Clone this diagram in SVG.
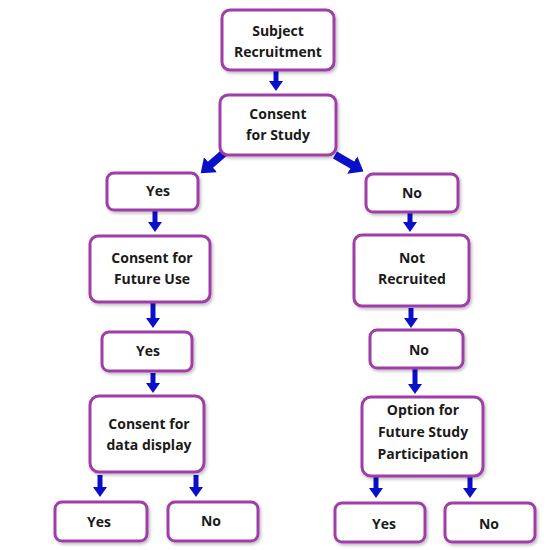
<svg xmlns="http://www.w3.org/2000/svg" width="560" height="550" viewBox="0 0 560 550">
<defs>
<filter id="sh" x="-20%" y="-20%" width="140%" height="150%">
<feDropShadow dx="1.5" dy="2" stdDeviation="1.5" flood-color="#000" flood-opacity="0.25"/>
</filter>
<marker id="ah" markerUnits="userSpaceOnUse" markerWidth="14" markerHeight="14" viewBox="0 0 14 14" refX="2" refY="7" orient="auto">
<path d="M0,0 L10,7 L0,14 Z" fill="#0a10c8"/>
</marker>
<marker id="ahb" markerUnits="userSpaceOnUse" markerWidth="20" markerHeight="20" viewBox="0 0 20 20" refX="2" refY="10" orient="auto">
<path d="M0,0 L13,10 L0,20 Z" fill="#0a10c8"/>
</marker>
<style>
.n rect{fill:#fff;stroke:#a03ca8;stroke-width:3;filter:url(#sh)}
.n text{font-family:"Open Sans","Liberation Sans",sans-serif;font-weight:bold;font-size:14px;fill:#1a1a1a;text-anchor:middle}
#edges line{stroke:#0a10c8;stroke-width:5;marker-end:url(#ah)}
#edges line.d{stroke-width:8;marker-end:url(#ahb)}
</style>
</defs>
<rect width="560" height="550" fill="#fff"/>
<g id="edges">
<line x1="276" y1="71" x2="276" y2="83"/>
<line class="d" x1="224" y1="153" x2="209" y2="166"/>
<line class="d" x1="335" y1="155" x2="354" y2="166"/>
<line x1="155" y1="211" x2="155" y2="224"/>
<line x1="410" y1="213" x2="410" y2="224"/>
<line x1="153" y1="303" x2="153" y2="320"/>
<line x1="411" y1="308" x2="411" y2="320"/>
<line x1="153" y1="373" x2="153" y2="385"/>
<line x1="415" y1="369" x2="415" y2="386"/>
<line x1="100" y1="475" x2="100" y2="489"/>
<line x1="196" y1="475" x2="196" y2="489"/>
<line x1="376" y1="477" x2="376" y2="490"/>
<line x1="470" y1="477" x2="470" y2="490"/>
</g>
<g id="n1" class="n"><rect x="222" y="10" width="112" height="60" rx="8"/><text x="278" y="36">Subject</text><text x="278" y="57">Recruitment</text></g>
<g id="n2" class="n"><rect x="220" y="95" width="116" height="60" rx="8"/><text x="278" y="119">Consent</text><text x="278" y="140">for Study</text></g>
<g id="n3" class="n"><rect x="107" y="173" width="91" height="37" rx="7"/><text x="158" y="196">Yes</text></g>
<g id="n4" class="n"><rect x="366" y="174" width="92" height="38" rx="7"/><text x="412" y="198">No</text></g>
<g id="n5" class="n"><rect x="90" y="236" width="120" height="66" rx="8"/><text x="152" y="263">Consent for</text><text x="152" y="284">Future Use</text></g>
<g id="n6" class="n"><rect x="354" y="235" width="115" height="71" rx="8"/><text x="412" y="263">Not</text><text x="412" y="284">Recruited</text></g>
<g id="n7" class="n"><rect x="102" y="332" width="90" height="39" rx="7"/><text x="148" y="356">Yes</text></g>
<g id="n8" class="n"><rect x="370" y="330" width="93" height="38" rx="7"/><text x="419" y="355">No</text></g>
<g id="n9" class="n"><rect x="90" y="396" width="114" height="76" rx="9"/><text x="149" y="429">Consent for</text><text x="149" y="450">data display</text></g>
<g id="n10" class="n"><rect x="362" y="397" width="121" height="79" rx="9"/><text x="423" y="415">Option for</text><text x="423" y="437">Future Study</text><text x="423" y="459">Participation</text></g>
<g id="n11" class="n"><rect x="55" y="502" width="92" height="39" rx="7"/><text x="99" y="527">Yes</text></g>
<g id="n12" class="n"><rect x="168" y="502" width="90" height="39" rx="7"/><text x="211" y="526">No</text></g>
<g id="n13" class="n"><rect x="335" y="503" width="90" height="39" rx="7"/><text x="384" y="529">Yes</text></g>
<g id="n14" class="n"><rect x="445" y="503" width="90" height="39" rx="7"/><text x="489" y="529">No</text></g>
</svg>
